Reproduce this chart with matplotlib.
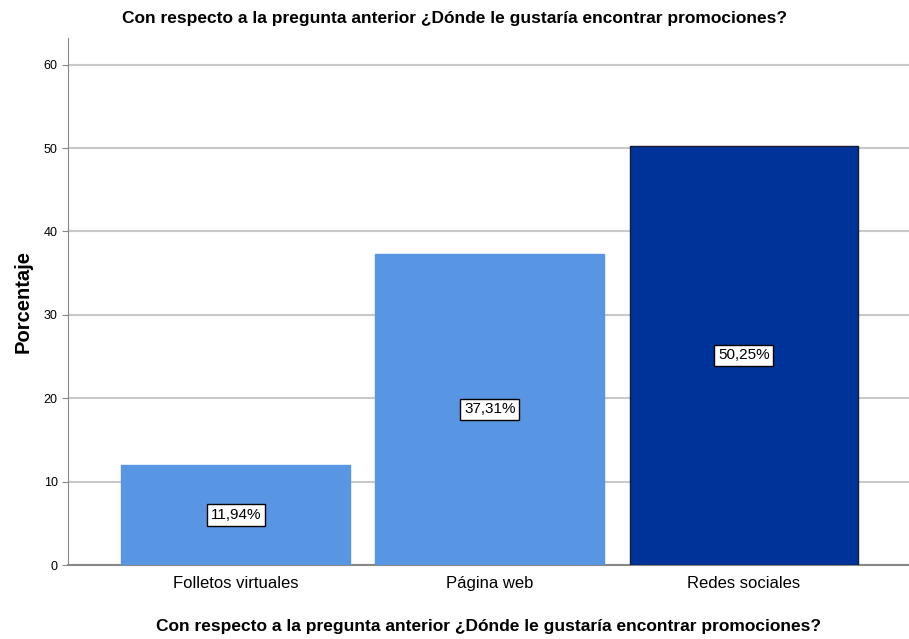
import matplotlib
matplotlib.use("Agg")
import matplotlib.pyplot as plt

categories = ["Folletos virtuales", "Página web", "Redes sociales"]
values = [11.94, 37.31, 50.25]
labels = ["11,94%", "37,31%", "50,25%"]
colors = ["#5896e3", "#5896e3", "#003399"]
edges = ["#5896e3", "#5896e3", "#1a1a2e"]
title = "Con respecto a la pregunta anterior ¿Dónde le gustaría encontrar promociones?"

plt.rcParams["font.family"] = ["Liberation Sans", "DejaVu Sans"]

fig = plt.figure(figsize=(9.09, 6.39), dpi=100)
ax = fig.add_axes([68 / 909, 1 - 565 / 639, (909 - 68) / 909, (565 - 38) / 639])

x = list(range(len(categories)))
ax.bar(x, values, width=0.9, color=colors, edgecolor=edges, linewidth=1, zorder=3)

# etiquetas de porcentaje en medio de cada barra
for xi, v, lab in zip(x, values, labels):
    ax.text(xi, v / 2, lab, ha="center", va="center", fontsize=11, zorder=4,
            bbox=dict(boxstyle="square,pad=0.25", fc="white", ec="black", lw=1))

ax.set_xlim(-0.66, 2.65)
ax.set_ylim(0, 63.2)
ax.set_yticks([0, 10, 20, 30, 40, 50, 60])
ax.set_xticks(x)
ax.set_xticklabels(categories, fontsize=12)
ax.tick_params(axis="y", labelsize=9, length=4, color="#888888")
ax.tick_params(axis="x", length=0, pad=8)
ax.yaxis.grid(True, color="#c8c8c8", linewidth=1.5, zorder=0)
ax.set_axisbelow(True)

for s in ["top", "right"]:
    ax.spines[s].set_visible(False)
ax.spines["left"].set_color("#888888")
ax.spines["bottom"].set_color("#888888")
ax.spines["bottom"].set_linewidth(1.5)

ax.set_ylabel("Porcentaje", fontsize=14.5, fontweight="bold", labelpad=8)
ax.set_xlabel(title, fontsize=12.5, fontweight="bold", labelpad=20)
fig.text(0.5, 1 - 18 / 639, title, ha="center", va="center", fontsize=12.5, fontweight="bold")

fig.savefig("out.png", dpi=100)
